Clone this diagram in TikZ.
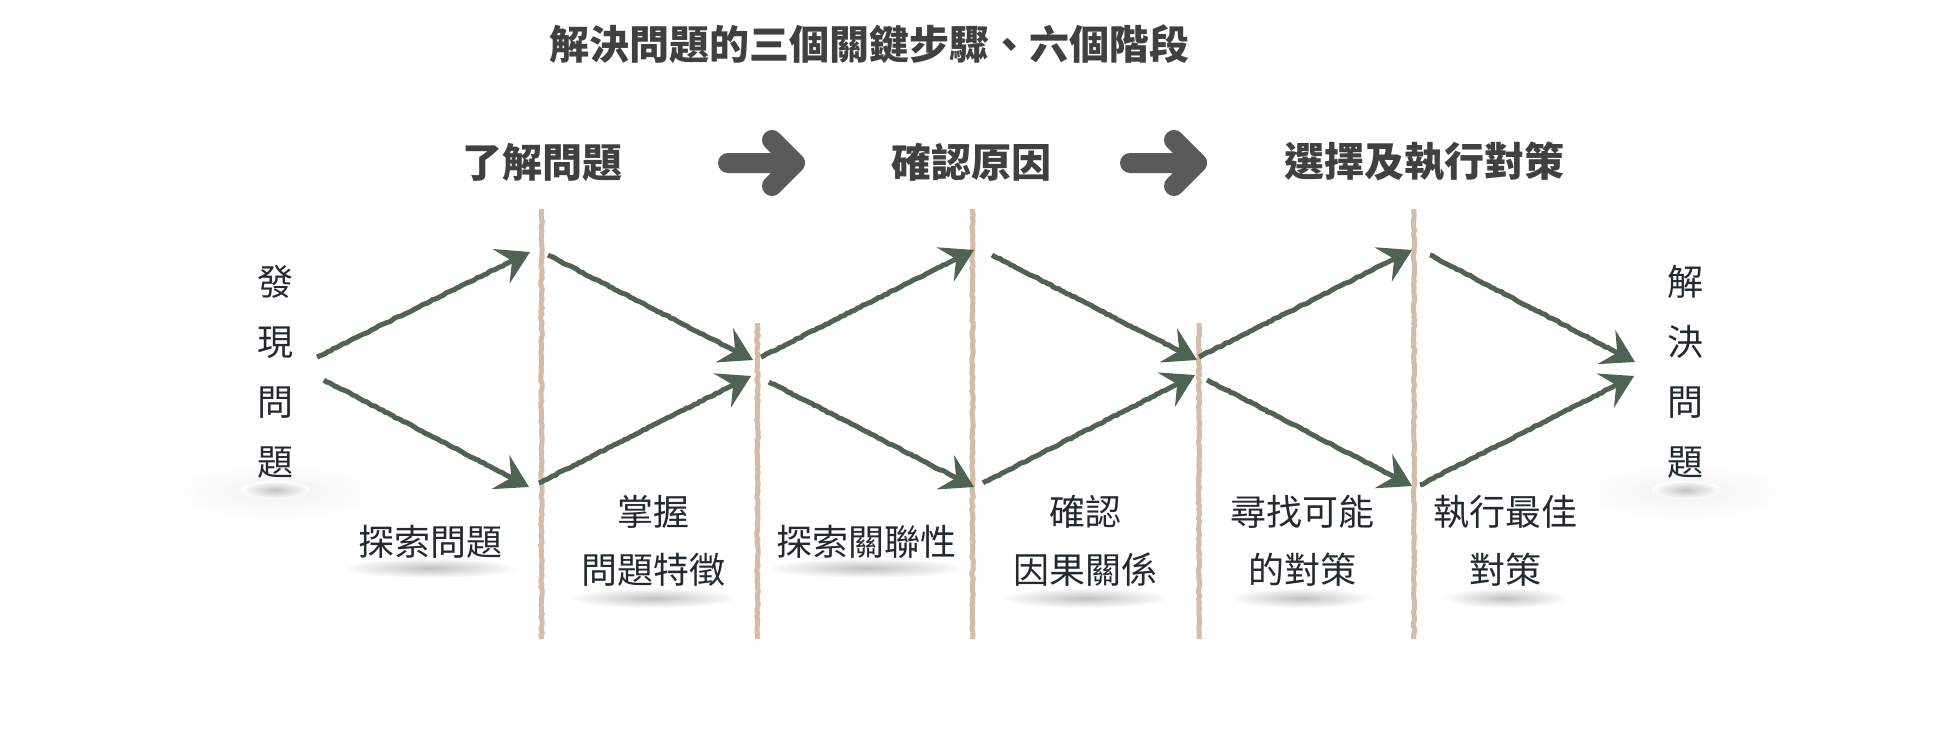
\documentclass[tikz,border=0pt]{standalone}
\usepackage{fontspec}
\setmainfont{Noto Sans CJK TC}
\usetikzlibrary{arrows.meta}
\usetikzlibrary{decorations.pathmorphing}
\usetikzlibrary{positioning}

\definecolor{sage}{HTML}{4E6352}
\definecolor{sand}{HTML}{D5BCA9}
\definecolor{ink}{HTML}{222A2E}
\definecolor{headgray}{HTML}{404040}
\definecolor{arrowgray}{HTML}{5A5A5A}

\tikzset{
  maintitle/.style={font=\fontsize{40}{40}\selectfont\bfseries, text=headgray, inner sep=0},
  phase/.style={font=\fontsize{40}{40}\selectfont\bfseries, text=headgray, inner sep=0},
  stage/.style={font=\fontsize{36}{58}\selectfont, text=ink, align=center, inner sep=0},
  ends/.style={font=\fontsize{36}{60}\selectfont, text=ink, align=center, inner sep=0},
  divider/.style={draw=sand, line width=5pt, decorate,
    decoration={random steps, segment length=3pt, amplitude=0.8pt}},
  chalk/.style={draw=sage, line width=5pt, line join=round, decorate,
    decoration={random steps, segment length=3pt, amplitude=0.6pt, post length=28pt},
    -{Stealth[length=32pt, width=38pt, inset=12pt]}},
  bigarrow/.style={draw=arrowgray, line width=20pt, line cap=round, line join=round},
  softshade/.style={inner color=black!24, outer color=white}
}

\begin{document}
\begin{tikzpicture}[x=1pt, y=-1pt]
  \pgfmathsetseed{7}
  \fill[white] (0,0) rectangle (1960,752);
  \useasboundingbox (0,0) rectangle (1960,752);

  % soft shadows under the labels
  \shade[inner color=black!5, outer color=white] (275,492) ellipse (110 and 30);
  \shade[inner color=black!5, outer color=white] (1686,492) ellipse (110 and 30);
  \shade[softshade] (275,490) ellipse (34 and 9);
  \shade[softshade] (1686,490) ellipse (34 and 9);
  \shade[softshade] (430,568) ellipse (88 and 10);
  \shade[softshade] (653,598) ellipse (85 and 10);
  \shade[softshade] (866,568) ellipse (100 and 10);
  \shade[softshade] (1085,598) ellipse (85 and 10);
  \shade[softshade] (1301,598) ellipse (72 and 10);
  \shade[softshade] (1505,598) ellipse (62 and 10);

  % title and the three steps
  \node[maintitle] (title) at (869,44) {解決問題的三個關鍵步驟、六個階段};
  \node[phase] (understand) at (542,162) {了解問題};
  \node[phase] (cause) at (971,162) {確認原因};
  \node[phase] (act) at (1424,162) {選擇及執行對策};

  \coordinate (h1s) at (728,163);
  \coordinate (h1e) at (795,163);
  \coordinate (h2s) at (1130,163);
  \coordinate (h2e) at (1197,163);
  \draw[bigarrow] (h1s) -- (h1e) -- +(-23,-23) (h1e) -- +(-23,23);
  \draw[bigarrow] (h2s) -- (h2e) -- +(-23,-23) (h2e) -- +(-23,23);

  % dividers
  \coordinate (d1t) at (541.5,209);  \coordinate (d1b) at (541.5,639);
  \coordinate (d2t) at (757.5,323);  \coordinate (d2b) at (757.5,639);
  \coordinate (d3t) at (972.5,209);  \coordinate (d3b) at (972.5,639);
  \coordinate (d4t) at (1199,323);   \coordinate (d4b) at (1199,639);
  \coordinate (d5t) at (1414,209);   \coordinate (d5b) at (1414,639);
  \draw[divider] (d1t) -- (d1b);
  \draw[divider] (d2t) -- (d2b);
  \draw[divider] (d3t) -- (d3b);
  \draw[divider] (d4t) -- (d4b);
  \draw[divider] (d5t) -- (d5b);

  % start and end labels
  \node[ends] (found) at (275,372) {發\\現\\問\\題};
  \node[ends] (solved) at (1685,372) {解\\決\\問\\題};

  % six stages
  \node[stage] (explore) at (430,542) {探索問題};
  \node[stage] (grasp) at (653,541) {掌握\\問題特徵};
  \node[stage] (relate) at (866,542) {探索關聯性};
  \node[stage] (confirm) at (1085,541) {確認\\因果關係};
  \node[stage] (seek) at (1302,541) {尋找可能\\的對策};
  \node[stage] (execute) at (1505,541) {執行最佳\\對策};

  % diverge / converge arrows
  \coordinate (a1s) at (317,357);   \coordinate (a1e) at (530,252);
  \coordinate (a2s) at (324,380);   \coordinate (a2e) at (529,487);
  \coordinate (a3s) at (548,255);   \coordinate (a3e) at (753,360);
  \coordinate (a4s) at (539,483);   \coordinate (a4e) at (751,376);
  \coordinate (a5s) at (761,357);   \coordinate (a5e) at (974,250);
  \coordinate (a6s) at (769,382);   \coordinate (a6e) at (974,487);
  \coordinate (a7s) at (992,255);   \coordinate (a7e) at (1197,360);
  \coordinate (a8s) at (983,483);   \coordinate (a8e) at (1195,375);
  \coordinate (a9s) at (1199,357);  \coordinate (a9e) at (1412,250);
  \coordinate (a10s) at (1207,380); \coordinate (a10e) at (1412,486);
  \coordinate (a11s) at (1430,255); \coordinate (a11e) at (1635,362);
  \coordinate (a12s) at (1420,485); \coordinate (a12e) at (1634,376);
  \draw[chalk] (a1s) -- (a1e);
  \draw[chalk] (a2s) -- (a2e);
  \draw[chalk] (a3s) -- (a3e);
  \draw[chalk] (a4s) -- (a4e);
  \draw[chalk] (a5s) -- (a5e);
  \draw[chalk] (a6s) -- (a6e);
  \draw[chalk] (a7s) -- (a7e);
  \draw[chalk] (a8s) -- (a8e);
  \draw[chalk] (a9s) -- (a9e);
  \draw[chalk] (a10s) -- (a10e);
  \draw[chalk] (a11s) -- (a11e);
  \draw[chalk] (a12s) -- (a12e);
\end{tikzpicture}
\end{document}
